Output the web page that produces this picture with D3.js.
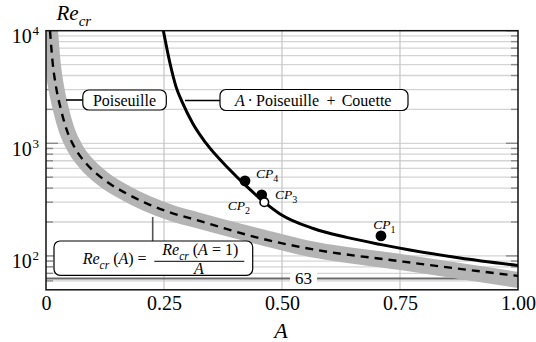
<!DOCTYPE html>
<html>
<head>
<meta charset="utf-8">
<script src="https://cdn.jsdelivr.net/npm/d3@7"></script>
<style>
  html, body { margin: 0; padding: 0; background: #fff; }
  svg { display: block; }
</style>
</head>
<body>
<svg id="chart" width="536" height="342"></svg>
<script>
// ---------- data ----------
const xTicks = [0, 0.25, 0.5, 0.75, 1.0];
const xTickLabels = ["0", "0.25", "0.50", "0.75", "1.00"];
const yMajor = [100, 1000, 10000];
const yMajorExp = ["2", "3", "4"];

// A · Poiseuille + Couette (solid curve)
const solidA  = [0.2486, 0.2627, 0.2754, 0.2896, 0.3107, 0.339, 0.3898, 0.4252, 0.4604, 0.4958, 0.5663, 0.637, 0.7076, 0.771, 0.877, 1.0];
const solidRe = [10000, 5140, 3190, 2270, 1507, 1002, 580, 414, 305, 236, 175, 146, 126.6, 113, 96, 82.3];

// Re_cr(A) = Re_cr(A=1)/A (dashed curve)
const dashA  = [0.0085, 0.0142, 0.0212, 0.0318, 0.0439, 0.0636, 0.0847, 0.1235, 0.1695, 0.2119, 0.2684, 0.3178, 0.4534, 0.5523, 0.7564, 1.0];
const dashRe = [10000, 5140, 3190, 1983, 1315, 874, 665, 473, 360, 294, 239, 209, 143.5, 117, 89, 66.4];

// grey band (Poiseuille)
const bandA  = [0.0085, 0.0142, 0.0212, 0.0318, 0.0439, 0.0636, 0.0847, 0.1235, 0.1695, 0.2119, 0.2684, 0.3178, 0.4534, 0.5523, 0.7564, 1.0];
const bandRe = [10000, 5140, 3190, 1983, 1315, 874, 665, 473, 360, 294, 239, 209, 148, 117, 87.6, 61.2];

// critical points
const cpNames = ["1", "2", "3", "4"];
const cpA     = [0.7097, 0.4625, 0.457, 0.4216];
const cpRe    = [150.6, 300, 348, 464];
const cpOpen  = [false, true, false, false];

const refValue = 63;
const refLabel = "63";

// ---------- layout ----------
const FONT = "'Liberation Serif', 'Times New Roman', serif";
const svg = d3.select("#chart");
const L = 46, R = 518, T = 30.7, B = 289.8;
const x = d3.scaleLinear().domain([0, 1]).range([L, R]);
const y = d3.scaleLog().domain([50, 10000]).range([B, T]);

svg.append("defs").append("clipPath").attr("id", "plot")
  .append("rect").attr("x", L).attr("y", T).attr("width", R - L).attr("height", B - T);

// horizontal grid + inward ticks
const gridVals = y.ticks().filter(v => v > 50 && v < 10000);
const grid = svg.append("g");
grid.selectAll("line.h").data(gridVals).join("line")
  .attr("x1", L).attr("x2", R)
  .attr("y1", d => y(d)).attr("y2", d => y(d))
  .attr("stroke", "#d4d4d4").attr("stroke-width", 1.3);
const tickVals = y.ticks().filter(v => v > 50);
const isMajor = v => yMajor.includes(v);
grid.selectAll("line.tl").data(tickVals).join("line")
  .attr("x1", L).attr("x2", d => L + (isMajor(d) ? 12 : 7))
  .attr("y1", d => y(d)).attr("y2", d => y(d))
  .attr("stroke", "#8a8a8a").attr("stroke-width", 1.4);
grid.selectAll("line.tr").data(tickVals).join("line")
  .attr("x1", R).attr("x2", d => R - (isMajor(d) ? 12 : 7))
  .attr("y1", d => y(d)).attr("y2", d => y(d))
  .attr("stroke", "#8a8a8a").attr("stroke-width", 1.4);
// vertical grid
grid.selectAll("line.v").data(xTicks.filter(v => v > 0 && v < 1)).join("line")
  .attr("x1", d => x(d)).attr("x2", d => x(d))
  .attr("y1", T).attr("y2", B)
  .attr("stroke", "#c4c4c4").attr("stroke-width", 1.2);

// reference line 63
svg.append("line")
  .attr("x1", L).attr("x2", R).attr("y1", y(refValue)).attr("y2", y(refValue))
  .attr("stroke", "#6a6a6a").attr("stroke-width", 2);

// curves
const plot = svg.append("g").attr("clip-path", "url(#plot)");
const line = d3.line().x(d => x(d[0])).y(d => y(d[1])).curve(d3.curveMonotoneX);
plot.append("path").datum(bandA.map((a, i) => [a, bandRe[i]]))
  .attr("d", line).attr("fill", "none")
  .attr("stroke", "#b4b4b4").attr("stroke-width", 16).attr("stroke-linecap", "square");
plot.append("path").datum(dashA.map((a, i) => [a, dashRe[i]]))
  .attr("d", line).attr("fill", "none")
  .attr("stroke", "#000").attr("stroke-width", 2.4).attr("stroke-dasharray", "8,6");
plot.append("path").datum(solidA.map((a, i) => [a, solidRe[i]]))
  .attr("d", line).attr("fill", "none")
  .attr("stroke", "#000").attr("stroke-width", 3);

// 63 label
svg.append("rect").attr("x", 290).attr("y", y(refValue) - 9).attr("width", 27).attr("height", 18).attr("fill", "#fff");
svg.append("text").attr("x", 303.5).attr("y", y(refValue) + 6).attr("text-anchor", "middle")
  .attr("font-size", 17).text(refLabel);

// leader lines
svg.append("line").attr("x1", 66).attr("x2", 83).attr("y1", 100).attr("y2", 100).attr("stroke", "#000").attr("stroke-width", 1.6);
svg.append("line").attr("x1", 185).attr("x2", 220).attr("y1", 100.5).attr("y2", 100.5).attr("stroke", "#000").attr("stroke-width", 1.6);
svg.append("line").attr("x1", 152.7).attr("x2", 152.7).attr("y1", 217).attr("y2", 241).attr("stroke", "#555").attr("stroke-width", 1.6);

// boxes
function box(x0, y0, w, h) {
  svg.append("rect").attr("x", x0).attr("y", y0).attr("width", w).attr("height", h)
    .attr("rx", 6).attr("ry", 6).attr("fill", "#fff").attr("stroke", "#000").attr("stroke-width", 1.2);
}
box(82.8, 90, 83.5, 20);
svg.append("text").attr("x", 124.5).attr("y", 105.5).attr("text-anchor", "middle").attr("font-size", 16).text("Poiseuille");

box(220, 89.5, 188, 21);
svg.append("text").attr("x", 235).attr("y", 105.5).attr("font-size", 16).attr("font-style", "italic").text("A");
svg.append("text").attr("x", 247.5).attr("y", 105.5).attr("font-size", 16).text("·");
svg.append("text").attr("x", 256).attr("y", 105.5).attr("font-size", 16).text("Poiseuille");
svg.append("text").attr("x", 326.5).attr("y", 105.5).attr("font-size", 16).text("+");
svg.append("text").attr("x", 341.7).attr("y", 105.5).attr("font-size", 16).text("Couette");

box(54, 241, 198.7, 34.3);
const f1 = svg.append("text").attr("x", 82.7).attr("y", 264).attr("font-size", 16);
f1.append("tspan").attr("font-style", "italic").text("Re");
f1.append("tspan").attr("font-style", "italic").attr("font-size", 11.5).attr("dy", 5).text("cr");
f1.append("tspan").attr("dy", -5).text(" (");
f1.append("tspan").attr("font-style", "italic").text("A");
f1.append("tspan").text(") =");
const f2 = svg.append("text").attr("x", 162.3).attr("y", 255.3).attr("font-size", 16);
f2.append("tspan").attr("font-style", "italic").text("Re");
f2.append("tspan").attr("font-style", "italic").attr("font-size", 11.5).attr("dy", 5).text("cr");
f2.append("tspan").attr("dy", -5).text(" (");
f2.append("tspan").attr("font-style", "italic").text("A");
f2.append("tspan").text(" = 1)");
svg.append("line").attr("x1", 154.3).attr("x2", 244.3).attr("y1", 261.3).attr("y2", 261.3).attr("stroke", "#000").attr("stroke-width", 1);
svg.append("text").attr("x", 199).attr("y", 274).attr("text-anchor", "middle").attr("font-size", 16).attr("font-style", "italic").text("A");

// critical points
const cpLabelPos = [[373.3, 229.3], [227.7, 210], [275, 199.3], [256, 178.3]];
cpNames.forEach((n, i) => {
  const t = svg.append("text").attr("x", cpLabelPos[i][0]).attr("y", cpLabelPos[i][1]).attr("font-size", 13.5).attr("font-style", "italic");
  t.append("tspan").text("CP");
  t.append("tspan").attr("font-size", 10).attr("font-style", "normal").attr("dy", 4).text(n);
});
const order = [0, 3, 2, 1];
order.forEach(i => {
  svg.append("circle").attr("cx", x(cpA[i])).attr("cy", y(cpRe[i]))
    .attr("r", cpOpen[i] ? 4.3 : 5.4)
    .attr("fill", cpOpen[i] ? "#fff" : "#000")
    .attr("stroke", "#000").attr("stroke-width", cpOpen[i] ? 1.6 : 0);
});

// frame
svg.append("rect").attr("x", L).attr("y", T).attr("width", R - L).attr("height", B - T)
  .attr("fill", "none").attr("stroke", "#111").attr("stroke-width", 1.5);

// x axis labels
const xAxis = d3.axisBottom(x).tickValues(xTicks).tickFormat((d, i) => xTickLabels[i]).tickSize(0).tickPadding(0);
const gx = svg.append("g").attr("transform", `translate(0,${B})`).call(xAxis);
gx.select(".domain").remove();
gx.selectAll("text").attr("font-size", 20).attr("dy", null).attr("y", 20.5).attr("fill", "#000");

// y axis labels (10^n)
const yAxis = d3.axisLeft(y).tickValues(yMajor).tickFormat(() => "").tickSize(0);
const gy = svg.append("g").attr("transform", `translate(${L},0)`).call(yAxis);
gy.select(".domain").remove();
gy.selectAll(".tick").each(function (d, i) {
  const g = d3.select(this);
  g.select("text").remove();
  g.append("text").attr("x", -14.3).attr("y", 11.8).attr("text-anchor", "end").attr("font-size", 20).text("10");
  g.append("text").attr("x", -13.4).attr("y", 4).attr("text-anchor", "start").attr("font-size", 13).text(yMajorExp[i]);
});

// axis titles
const yt = svg.append("text").attr("x", 56.5).attr("y", 20).attr("font-size", 21).attr("font-style", "italic");
yt.append("tspan").text("Re");
yt.append("tspan").attr("font-size", 15).attr("dy", 6).text("cr");
svg.append("text").attr("x", 281).attr("y", 338).attr("text-anchor", "middle").attr("font-size", 22).attr("font-style", "italic").text("A");

// serif font everywhere
svg.selectAll("text").style("font-family", FONT).style("fill", "#000");
svg.selectAll("g").attr("font-family", null);
</script>
</body>
</html>
